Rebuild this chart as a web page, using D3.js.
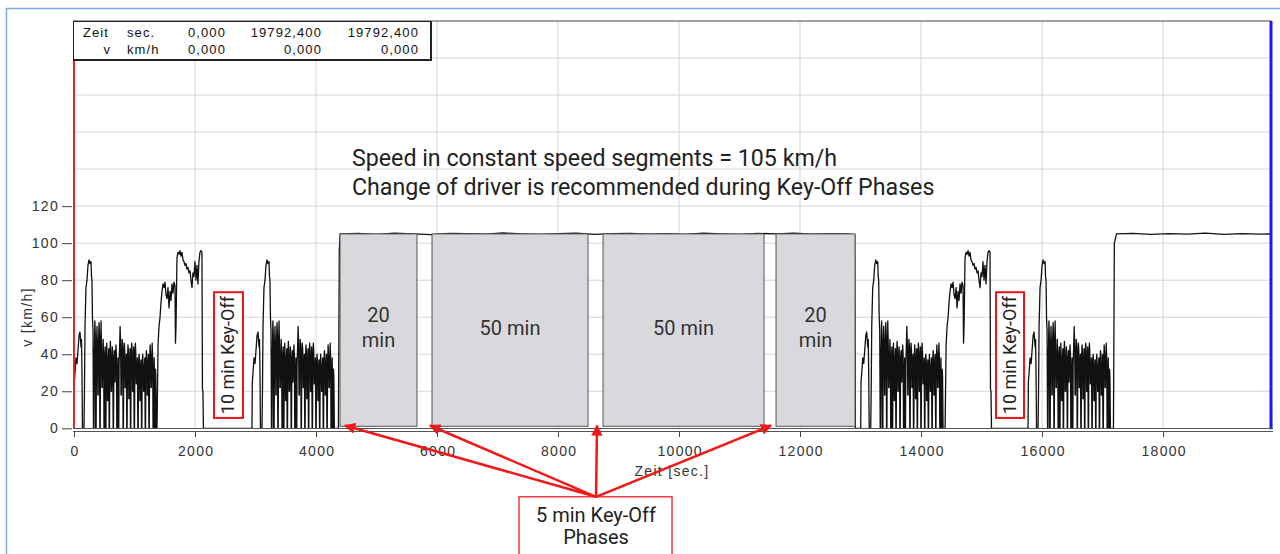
<!DOCTYPE html>
<html><head><meta charset="utf-8">
<script src="https://cdn.jsdelivr.net/npm/d3@7"></script>
<style>body{margin:0;background:#fff}svg{display:block}</style>
</head><body>
<svg id="c" width="1280" height="554"></svg>
<script>
// ---- data ----
// urban drive-cycle profile: time offset [s] and speed [km/h]
const urbanT=[0,5,17,33,50,66,83,99,116,124,132,140,165,173,182,198,215,231,248,264,281,289,297,305,314,322,
330,336,345,352,358, 366,372,380,388,394, 400,406,414,421,427, 433,439,447,455,461, 468,474,482,490,496,
502,508,516,522, 528,533,541,548,554, 560,566,574,581, 587,593,601,608,614, 620,626,634,641,647,
653,659,667,673, 679,685,693,701,707, 713,719,727,734, 740,746,754,762,770,777, 783,789,797,805,811,
817,823,831,839,845, 851,857,865,872, 878,884,892,900,906, 912,918,926,933, 939,945,953,961,967,
973,979,987,994, 1000,1006,1014,1022,1028, 1034,1040,1048,1055, 1061,1067,1075,1083,1089, 1095,1101,1109,1116,
1122,1128,1136,1144,1150, 1156,1162,1170,1177, 1183,1189,1197,1205,1211, 1217,1223,1231,1238,
1244,1250,1258,1266,1272, 1278,1284,1292,1300,1306, 1312,1318,1326,1333, 1340,1346,1353,1361];
const urbanV=[0,25,30,38,35,42,50,52,44,48,30,0,0,20,55,76,80,88,91,89,90,82,80,60,53,0,
0,40,58,50,0, 0,45,55,40,18, 18,48,57,50,0, 0,42,58,45,22, 22,35,48,40,0,
0,38,44,0, 0,30,46,38,15, 15,35,43,0, 0,40,47,42,20, 20,33,44,38,0,
0,36,42,25, 25,38,45,40,0, 0,30,38,0, 0,36,44,55,46,18, 18,40,48,44,0,
0,38,46,42,22, 22,35,40,0, 0,38,45,41,16, 16,33,43,0, 0,40,46,42,20,
20,35,44,0, 0,38,46,40,24, 24,30,38,0, 0,34,40,36,15, 15,30,37,0,
0,35,40,33,20, 20,32,38,0, 0,36,42,38,18, 18,30,40,0,
0,36,45,40,22, 22,33,46,38,0, 0,30,38,0, 0,32,28,0];
// rural (extra-urban) profile
const ruralT=[0,8,17,33,50,66,83,99,116,132,149,165,182,198,215,231,248,264,281,297,305,314,330,347,363,380,396,413,429,446,462,479,495,512,528,545,561,578,594,611,627,644,660,677,693,710,726,743,751,759,767];
const ruralV=[0,20,45,55,60,68,74,78,76,79,72,70,76,65,74,69,78,73,79,77,46,55,92,95,94,96,93,95,91,90,88,89,86,87,84,85,80,76,84,82,90,80,88,78,90,95,96,95,21,20,0];
const urbanStarts=[0,2942,13003,15769];
const ruralStarts=[1372,14397];
// constant-speed segments
const constT1=[4370,4385,4400,4700,5000,5300,5600,5900,6200,6500,6800,7100,7400,7700,8000,8300,8600,8900,9200,9500,9800,10100,10400,10700,11000,11300,11600,11900,12200,12500,12800,12905,12915];
const constV1=[0,97,105,105.3,104.8,105.4,105.0,104.6,105.3,105.1,104.9,105.5,105.0,104.7,105.2,105.4,104.8,105.1,105.3,104.9,105.2,104.8,105.4,105.0,104.7,105.3,105.0,105.4,104.9,105.2,105.0,104.5,0];
const constT2=[17180,17195,17230,17500,17800,18100,18400,18700,19000,19300,19600,19780,19792];
const constV2=[0,100,105,105.3,104.8,105.2,104.9,105.4,104.7,105.1,104.9,105.0,0];
// shaded constant-speed blocks
const blockStart=[4397,5917,8744,11603];
const blockEnd=[5669,8496,11405,12909];
const blockTop=105;
const blockLabels=[["20","min"],["50 min"],["50 min"],["20","min"]];
// 10 min key-off boxes
const keyOff10Start=[2314,15240];
const keyOff10End=[2793,15702];
const keyOff10Lo=5.6, keyOff10Hi=73.5;
const keyOff10Label="10 min Key-Off";
// 5 min key-off arrows (targets in time)
const arrowTargets=[4479,5884,8645,11521];
const arrowOriginT=8628, arrowOriginV=-37;
const noteBoxStart=7355, noteBoxEnd=9884;
const noteLines=["5 min Key-Off","Phases"];
const annotation=["Speed in constant speed segments = 105 km/h","Change of driver is recommended during Key-Off Phases"];
// axes
const xMax=19792.4, yMax=220;
const xTicks=[0,2000,4000,6000,8000,10000,12000,14000,16000,18000];
const yTicks=[0,20,40,60,80,100,120];
const yGrid=[20,40,60,80,100,120,140,160,180,200];
const xLabel="Zeit [sec.]", yLabel="v [km/h]";
// cursor table
const tableRows=[["Zeit","sec.","0,000","19792,400","19792,400"],["v","km/h","0,000","0,000","0,000"]];

// ---- drawing ----
const svg=d3.select("#c");
const x=d3.scaleLinear().domain([0,xMax]).range([74,1271.5]);
const y=d3.scaleLinear().domain([0,yMax]).range([428.3,21]);
const AX="'Liberation Sans',Arial,sans-serif", RB="Roboto,sans-serif";

// outer frame
svg.append("path").attr("d","M6.5,560 V8.5 H1290").attr("fill","none").attr("stroke","#7aaadf").attr("stroke-width",1.5);

// grid
const g=svg.append("g");
g.selectAll(".gx").data(xTicks.filter(d=>d>0)).join("line")
 .attr("x1",d=>x(d)).attr("x2",d=>x(d)).attr("y1",y(yMax)).attr("y2",y(0))
 .attr("stroke","#d6d6d6").attr("stroke-width",1);
g.selectAll(".gy").data(yGrid).join("line")
 .attr("x1",x(0)).attr("x2",x(xMax)).attr("y1",d=>y(d)).attr("y2",d=>y(d))
 .attr("stroke","#d6d6d6").attr("stroke-width",1);
// top border
svg.append("line").attr("x1",73).attr("x2",x(xMax)).attr("y1",y(yMax)).attr("y2",y(yMax)).attr("stroke","#444").attr("stroke-width",1.2);

// build trace
let pts=[];
const nU=Math.min(urbanT.length,urbanV.length), nR=Math.min(ruralT.length,ruralV.length);
urbanStarts.forEach(s=>{for(let i=0;i<nU;i++)pts.push([s+urbanT[i],urbanV[i]]);});
ruralStarts.forEach(s=>{for(let i=0;i<nR;i++)pts.push([s+ruralT[i],ruralV[i]]);});
constT1.forEach((t,i)=>pts.push([t,constV1[i]]));
constT2.forEach((t,i)=>pts.push([t,constV2[i]]));
pts.sort((a,b)=>a[0]-b[0]);
const line=d3.line().x(d=>x(d[0])).y(d=>y(d[1]));
svg.append("path").attr("d",line(pts)).attr("fill","none").attr("stroke","#111").attr("stroke-width",1.3).attr("stroke-linejoin","round");

// blocks
const bl=svg.append("g");
blockStart.forEach((s,i)=>{
  bl.append("rect").attr("x",x(s)).attr("y",y(blockTop)).attr("width",x(blockEnd[i])-x(s)).attr("height",y(0)-y(blockTop)-2)
    .attr("fill","#d9d9dd").attr("stroke","#555").attr("stroke-width",1);
  const cx=(x(s)+x(blockEnd[i]))/2;
  const lab=blockLabels[i];
  if(lab.length===2){
    bl.append("text").attr("x",cx).attr("y",322).text(lab[0]);
    bl.append("text").attr("x",cx).attr("y",347).text(lab[1]);
  } else bl.append("text").attr("x",cx).attr("y",335).text(lab[0]);
});
bl.selectAll("text").attr("text-anchor","middle").attr("font-family",RB).attr("font-size",20).attr("fill","#333");

// 10 min key-off boxes
keyOff10Start.forEach((s,i)=>{
  const x0=x(s),x1=x(keyOff10End[i]),y0=y(keyOff10Hi),y1=y(keyOff10Lo);
  svg.append("rect").attr("x",x0).attr("y",y0).attr("width",x1-x0).attr("height",y1-y0)
    .attr("fill","#fff").attr("stroke","#e8161b").attr("stroke-width",2);
  svg.append("text").attr("transform",`translate(${(x0+x1)/2+6},${(y0+y1)/2}) rotate(-90)`)
    .attr("text-anchor","middle").attr("font-family",RB).attr("font-size",18).attr("fill","#222").text(keyOff10Label);
});

// cursors
svg.append("line").attr("x1",74).attr("x2",74).attr("y1",60).attr("y2",y(0)).attr("stroke","#e3262b").attr("stroke-width",2);
svg.append("line").attr("x1",1271).attr("x2",1271).attr("y1",y(yMax)).attr("y2",y(0)+1).attr("stroke","#1a1aee").attr("stroke-width",3);

// x axis (double line)
svg.append("line").attr("x1",73).attr("x2",1273).attr("y1",428.5).attr("y2",428.5).attr("stroke","#555").attr("stroke-width",1.2);
svg.append("line").attr("x1",73).attr("x2",1273).attr("y1",431.5).attr("y2",431.5).attr("stroke","#555").attr("stroke-width",1.2);
const xa=svg.append("g").attr("transform","translate(0,431)").call(d3.axisBottom(x).tickValues(xTicks).tickFormat(d3.format("d")).tickSize(6).tickPadding(9));
xa.select(".domain").remove();
xa.selectAll("line").attr("stroke","#444");
xa.selectAll("text").attr("font-family",AX).attr("font-size",14).attr("letter-spacing","1.3px").attr("dx","0.65").attr("fill","#333");
const ya=svg.append("g").attr("transform","translate(72,0)").call(d3.axisLeft(y).tickValues(yTicks).tickSize(10).tickPadding(3));
ya.select(".domain").remove();
ya.selectAll("line").attr("stroke","#444");
ya.selectAll("text").attr("font-family",AX).attr("font-size",14).attr("letter-spacing","1.3px").attr("fill","#333");
svg.append("text").attr("x",672).attr("y",476).attr("text-anchor","middle").attr("font-family",AX).attr("font-size",14).attr("letter-spacing","1.3px").attr("fill","#333").text(xLabel);
svg.append("text").attr("transform","translate(32,317) rotate(-90)").attr("text-anchor","middle").attr("font-family",AX).attr("font-size",14).attr("letter-spacing","1.3px").attr("fill","#333").text(yLabel);

// cursor table
const tb=svg.append("g");
tb.append("rect").attr("x",73.5).attr("y",21.5).attr("width",357).attr("height",38).attr("fill","#fff").attr("stroke","#222").attr("stroke-width",1);
tb.append("line").attr("x1",431).attr("x2",431).attr("y1",21).attr("y2",61).attr("stroke","#222").attr("stroke-width",2);
tb.append("line").attr("x1",73).attr("x2",432).attr("y1",60).attr("y2",60).attr("stroke","#222").attr("stroke-width",2);
const colX=[[83,"start"],[127,"start"],[226,"end"],[322,"end"],[419,"end"]];
tableRows.forEach((r,ri)=>r.forEach((c,ci)=>{
  let [cx,anc]=colX[ci];
  if(ri===1&&ci===0){cx=111;anc="end";}
  tb.append("text").attr("x",cx).attr("y",37+ri*17).attr("text-anchor",anc)
    .attr("font-family",AX).attr("font-size",13).attr("letter-spacing","1.1px").attr("fill","#111").text(c);
}));

// annotation text
annotation.forEach((t,i)=>svg.append("text").attr("x",352).attr("y",166+i*29).attr("font-family",RB).attr("font-size",23.2).attr("fill","#222").text(t));

// note box and arrows
const ox=x(arrowOriginT), oy=y(arrowOriginV);
svg.append("rect").attr("x",x(noteBoxStart)).attr("y",oy).attr("width",x(noteBoxEnd)-x(noteBoxStart)).attr("height",80)
  .attr("fill","#fff").attr("stroke","#ee3b3f").attr("stroke-width",1.5);
noteLines.forEach((t,i)=>svg.append("text").attr("x",ox).attr("y",522+i*22).attr("text-anchor","middle").attr("font-family",RB).attr("font-size",20).attr("fill","#222").text(t));
const defs=svg.append("defs");
defs.append("marker").attr("id","ah").attr("viewBox","0 0 10 10").attr("refX",9).attr("refY",5).attr("markerWidth",4.5).attr("markerHeight",4.5).attr("orient","auto")
  .append("path").attr("d","M0,0 L10,5 L0,10 z").attr("fill","#f01818");
arrowTargets.forEach(t=>svg.append("line").attr("x1",ox).attr("y1",oy).attr("x2",x(t)).attr("y2",y(1.5))
  .attr("stroke","#f01818").attr("stroke-width",2.5).attr("marker-end","url(#ah)"));
</script>
</body></html>
